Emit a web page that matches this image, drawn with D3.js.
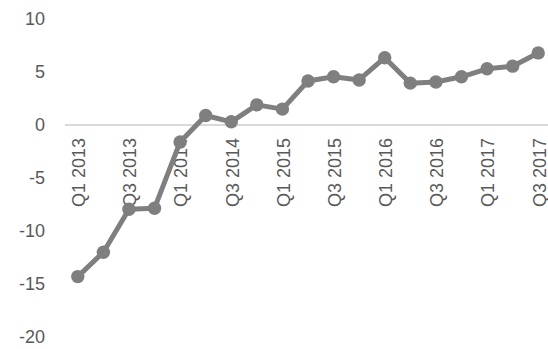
<!DOCTYPE html>
<html>
<head>
<meta charset="utf-8">
<script src="https://cdn.jsdelivr.net/npm/d3@7"></script>
<style>
  html, body { margin: 0; padding: 0; background: #fff; }
  text { font-family: "Liberation Sans", Arial, sans-serif; }
</style>
</head>
<body>
<div id="container"></div>
<script>
const quarters = ["Q1 2013","Q2 2013","Q3 2013","Q4 2013","Q1 2014","Q2 2014","Q3 2014","Q4 2014",
  "Q1 2015","Q2 2015","Q3 2015","Q4 2015","Q1 2016","Q2 2016","Q3 2016","Q4 2016",
  "Q1 2017","Q2 2017","Q3 2017"];
const values = [-14.3, -12.0, -7.95, -7.85, -1.6, 0.9, 0.3, 1.9, 1.5, 4.15, 4.55, 4.25, 6.35,
  3.95, 4.05, 4.55, 5.3, 5.55, 6.8];
const yTicks = [-20, -15, -10, -5, 0, 5, 10];
const shownLabels = quarters.filter((q, i) => i % 2 === 0);

const width = 548, height = 349;
const marginLeft = 65, plotRight = 551;

const svg = d3.select("#container").append("svg")
  .attr("width", width)
  .attr("height", height);

const x = d3.scaleBand()
  .domain(quarters)
  .range([marginLeft, plotRight]);

const y = d3.scaleLinear()
  .domain([-20, 10])
  .range([337, 19]);

const cx = q => x(q) + x.bandwidth() / 2;

// y labels
svg.append("g")
  .selectAll("text")
  .data(yTicks)
  .join("text")
  .attr("x", 45)
  .attr("y", d => y(d))
  .attr("dy", "0.35em")
  .attr("text-anchor", "end")
  .attr("font-size", 18)
  .attr("fill", "#595959")
  .text(d => d);

// zero line
svg.append("line")
  .attr("x1", marginLeft)
  .attr("x2", width)
  .attr("y1", y(0))
  .attr("y2", y(0))
  .attr("stroke", "#d9d9d9")
  .attr("stroke-width", 2);

// category labels, rotated
svg.append("g")
  .selectAll("text")
  .data(shownLabels)
  .join("text")
  .attr("transform", d => `translate(${cx(d) + 1},${y(0) + 13}) rotate(-90)`)
  .attr("dy", "0.35em")
  .attr("text-anchor", "end")
  .attr("font-size", 18)
  .attr("fill", "#595959")
  .text(d => d);

const line = d3.line()
  .x((d, i) => cx(quarters[i]))
  .y(d => y(d));

svg.append("path")
  .datum(values)
  .attr("d", line)
  .attr("fill", "none")
  .attr("stroke", "#7f7f7f")
  .attr("stroke-width", 5)
  .attr("stroke-linejoin", "round");

svg.append("g")
  .selectAll("circle")
  .data(values)
  .join("circle")
  .attr("cx", (d, i) => cx(quarters[i]))
  .attr("cy", d => y(d))
  .attr("r", 6.7)
  .attr("fill", "#7f7f7f");
</script>
</body>
</html>
